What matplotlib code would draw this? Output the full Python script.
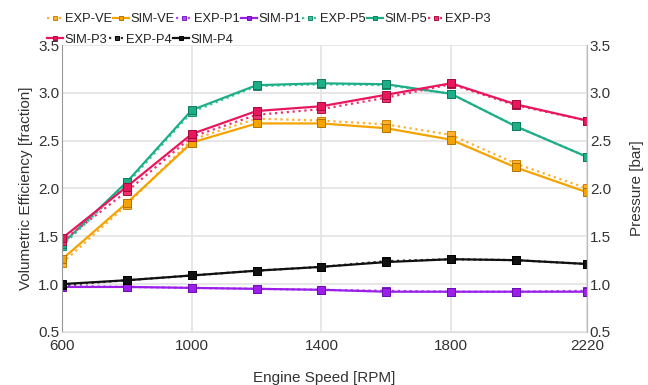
import matplotlib
matplotlib.use("Agg")
import matplotlib.pyplot as plt

plt.rcParams['font.family'] = ['Liberation Sans', 'DejaVu Sans']

# engine speed sweep
rpm = [600, 800, 1000, 1200, 1400, 1600, 1800, 2000, 2220]

# volumetric efficiency, experiment vs simulation
exp_ve = [1.22, 1.83, 2.51, 2.73, 2.71, 2.67, 2.56, 2.26, 2.00]
sim_ve = [1.26, 1.85, 2.48, 2.68, 2.68, 2.63, 2.51, 2.22, 1.96]
# pressures at the probe points [bar]
exp_p1 = [0.98, 0.97, 0.96, 0.95, 0.94, 0.93, 0.92, 0.92, 0.93]
sim_p1 = [0.97, 0.97, 0.96, 0.95, 0.94, 0.92, 0.92, 0.92, 0.92]
exp_p5 = [1.40, 2.05, 2.80, 3.07, 3.09, 3.08, 2.99, 2.65, 2.33]
sim_p5 = [1.42, 2.07, 2.82, 3.08, 3.10, 3.09, 2.99, 2.65, 2.33]
exp_p3 = [1.45, 1.97, 2.54, 2.77, 2.83, 2.95, 3.09, 2.87, 2.71]
sim_p3 = [1.48, 2.02, 2.57, 2.81, 2.86, 2.98, 3.10, 2.88, 2.71]
exp_p4 = [0.99, 1.04, 1.09, 1.14, 1.18, 1.24, 1.26, 1.25, 1.21]
sim_p4 = [1.00, 1.04, 1.09, 1.14, 1.18, 1.23, 1.26, 1.25, 1.21]

series = [
    ("EXP-VE", exp_ve, "#FFB02E", "#C98400", ":"),
    ("SIM-VE", sim_ve, "#F5A300", "#B07400", "-"),
    ("EXP-P1", exp_p1, "#B04DF5", "#7A1FBF", ":"),
    ("SIM-P1", sim_p1, "#9B1FE8", "#6A0FB0", "-"),
    ("EXP-P5", exp_p5, "#3CC49E", "#168A6A", ":"),
    ("SIM-P5", sim_p5, "#1DAE88", "#0F7A5E", "-"),
    ("EXP-P3", exp_p3, "#F0306F", "#A8103F", ":"),
    ("SIM-P3", sim_p3, "#E8175D", "#A00C3A", "-"),
    ("EXP-P4", exp_p4, "#333333", "#000000", ":"),
    ("SIM-P4", sim_p4, "#111111", "#000000", "-"),
]

fig = plt.figure(figsize=(6.48, 3.85), dpi=100)
ax = fig.add_axes([0.096, 0.138, 0.810, 0.745])

for name, vals, col, edge, ls in series:
    ax.plot(rpm, vals, color=col, linestyle=ls, linewidth=1.6,
            marker='s', markersize=5.5, markerfacecolor=col,
            markeredgecolor=edge, markeredgewidth=0.7, label=name)

ax.set_xlim(600, 2220)
ax.set_ylim(0.5, 3.5)
ax.set_xticks([600, 1000, 1400, 1800, 2220])
ax.set_yticks([0.5, 1.0, 1.5, 2.0, 2.5, 3.0, 3.5])
ax.set_yticklabels(['0.5', '1.0', '1.5', '2.0', '2.5', '3.0', '3.5'])
ax.grid(True, color='#E3E3E3', linewidth=1.2)
ax.set_axisbelow(True)
ax.tick_params(labelsize=11, length=0, colors='#333333', pad=2)
ax.tick_params(axis='x', pad=5)

ax.spines['top'].set_visible(False)
ax.spines['bottom'].set_color('#DDDDDD')
ax.spines['left'].set_color('#999999')
ax.spines['right'].set_color('#BBBBBB')

ax.set_xlabel("Engine Speed [RPM]", fontsize=11, color='#333333', labelpad=13)
ax.set_ylabel("Volumetric Efficiency [fraction]", fontsize=11, color='#333333', labelpad=4)

ax2 = ax.twinx()
ax2.set_ylim(0.5, 3.5)
ax2.set_yticks([0.5, 1.0, 1.5, 2.0, 2.5, 3.0, 3.5])
ax2.set_yticklabels(['0.5', '1.0', '1.5', '2.0', '2.5', '3.0', '3.5'])
ax2.tick_params(labelsize=11, length=0, colors='#333333', pad=2)
for s in ['top', 'left', 'bottom']:
    ax2.spines[s].set_visible(False)
ax2.spines['right'].set_color('#BBBBBB')
ax2.set_ylabel("Pressure [bar]", fontsize=11, color='#333333', labelpad=14)

# legend wraps onto a second row: two legends, each flowing left to right
handles, labels = ax.get_legend_handles_labels()
leg_kw = dict(loc='upper left', frameon=False, fontsize=9.3, handlelength=1.25,
              handletextpad=0.1, columnspacing=0.1, markerscale=0.45,
              labelcolor='#222222', borderaxespad=0, borderpad=0)
fig.legend(handles[:7], labels[:7], ncol=7,
           bbox_to_anchor=(0.073, 0.966), **leg_kw)
fig.legend(handles[7:], labels[7:], ncol=3,
           bbox_to_anchor=(0.073, 0.913), **leg_kw)

fig.savefig("out.png", dpi=100)
